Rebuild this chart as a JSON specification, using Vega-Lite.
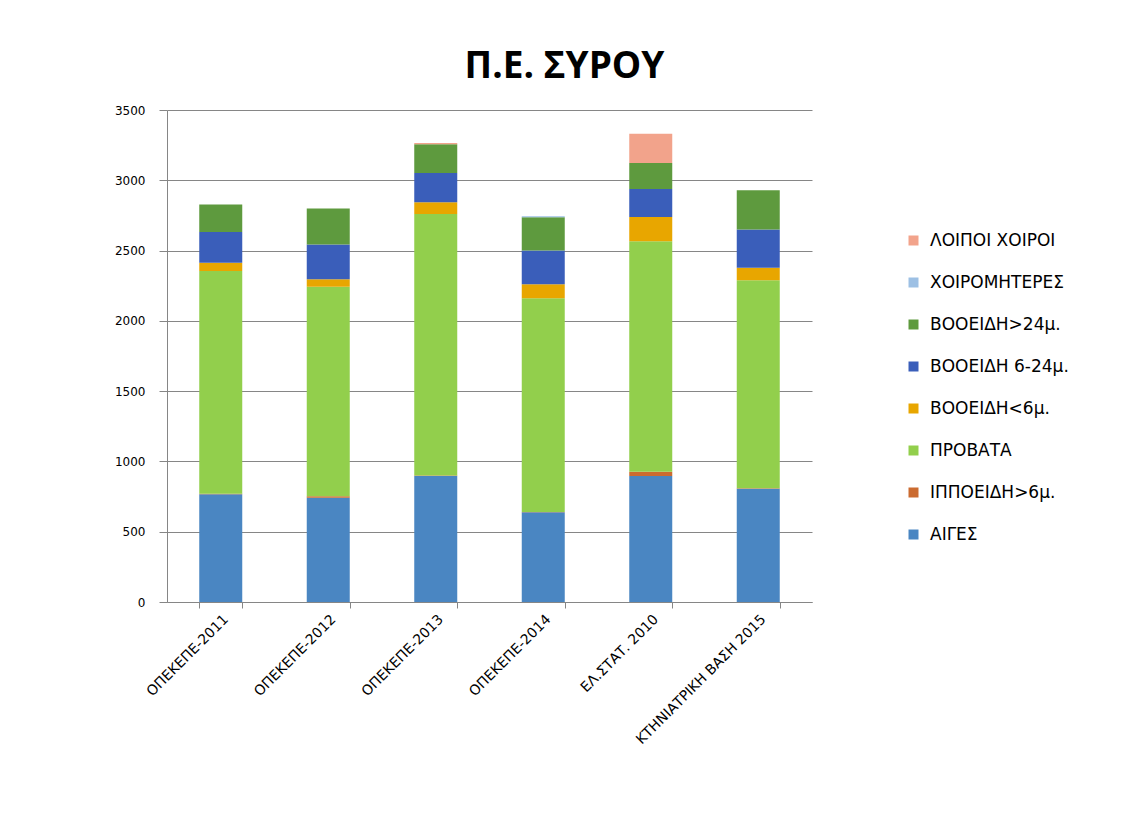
{
  "$schema": "https://vega.github.io/schema/vega-lite/v6.json",
  "autosize": "none",
  "width": 645,
  "height": 492,
  "padding": {"left": 167, "top": 110, "right": 316, "bottom": 232},
  "background": "white",
  "title": {
    "text": "Π.Ε. ΣΥΡΟΥ",
    "font": "Open Sans",
    "fontSize": 37,
    "fontWeight": "bold",
    "color": "#000000",
    "anchor": "middle",
    "frame": "group",
    "dx": 75,
    "offset": 18
  },
  "datasets": {
    "seriesOrder": [
      {"series": "ΑΙΓΕΣ", "stackRank": 1},
      {"series": "ΙΠΠΟΕΙΔΗ>6μ.", "stackRank": 2},
      {"series": "ΠΡΟΒΑΤΑ", "stackRank": 3},
      {"series": "ΒΟΟΕΙΔΗ<6μ.", "stackRank": 4},
      {"series": "ΒΟΟΕΙΔΗ 6-24μ.", "stackRank": 5},
      {"series": "ΒΟΟΕΙΔΗ>24μ.", "stackRank": 6},
      {"series": "ΧΟΙΡΟΜΗΤΕΡΕΣ", "stackRank": 7},
      {"series": "ΛΟΙΠΟΙ ΧΟΙΡΟΙ", "stackRank": 8}
    ],
    "livestock": [
      {"source": "ΟΠΕΚΕΠΕ-2011", "series": "ΑΙΓΕΣ", "value": 766},
      {"source": "ΟΠΕΚΕΠΕ-2011", "series": "ΙΠΠΟΕΙΔΗ>6μ.", "value": 4},
      {"source": "ΟΠΕΚΕΠΕ-2011", "series": "ΠΡΟΒΑΤΑ", "value": 1585},
      {"source": "ΟΠΕΚΕΠΕ-2011", "series": "ΒΟΟΕΙΔΗ<6μ.", "value": 58},
      {"source": "ΟΠΕΚΕΠΕ-2011", "series": "ΒΟΟΕΙΔΗ 6-24μ.", "value": 220},
      {"source": "ΟΠΕΚΕΠΕ-2011", "series": "ΒΟΟΕΙΔΗ>24μ.", "value": 195},
      {"source": "ΟΠΕΚΕΠΕ-2012", "series": "ΑΙΓΕΣ", "value": 742},
      {"source": "ΟΠΕΚΕΠΕ-2012", "series": "ΙΠΠΟΕΙΔΗ>6μ.", "value": 10},
      {"source": "ΟΠΕΚΕΠΕ-2012", "series": "ΠΡΟΒΑΤΑ", "value": 1491},
      {"source": "ΟΠΕΚΕΠΕ-2012", "series": "ΒΟΟΕΙΔΗ<6μ.", "value": 53},
      {"source": "ΟΠΕΚΕΠΕ-2012", "series": "ΒΟΟΕΙΔΗ 6-24μ.", "value": 248},
      {"source": "ΟΠΕΚΕΠΕ-2012", "series": "ΒΟΟΕΙΔΗ>24μ.", "value": 255},
      {"source": "ΟΠΕΚΕΠΕ-2013", "series": "ΑΙΓΕΣ", "value": 897},
      {"source": "ΟΠΕΚΕΠΕ-2013", "series": "ΙΠΠΟΕΙΔΗ>6μ.", "value": 3},
      {"source": "ΟΠΕΚΕΠΕ-2013", "series": "ΠΡΟΒΑΤΑ", "value": 1860},
      {"source": "ΟΠΕΚΕΠΕ-2013", "series": "ΒΟΟΕΙΔΗ<6μ.", "value": 84},
      {"source": "ΟΠΕΚΕΠΕ-2013", "series": "ΒΟΟΕΙΔΗ 6-24μ.", "value": 208},
      {"source": "ΟΠΕΚΕΠΕ-2013", "series": "ΒΟΟΕΙΔΗ>24μ.", "value": 205},
      {"source": "ΟΠΕΚΕΠΕ-2013", "series": "ΛΟΙΠΟΙ ΧΟΙΡΟΙ", "value": 8},
      {"source": "ΟΠΕΚΕΠΕ-2014", "series": "ΑΙΓΕΣ", "value": 638},
      {"source": "ΟΠΕΚΕΠΕ-2014", "series": "ΙΠΠΟΕΙΔΗ>6μ.", "value": 3},
      {"source": "ΟΠΕΚΕΠΕ-2014", "series": "ΠΡΟΒΑΤΑ", "value": 1520},
      {"source": "ΟΠΕΚΕΠΕ-2014", "series": "ΒΟΟΕΙΔΗ<6μ.", "value": 99},
      {"source": "ΟΠΕΚΕΠΕ-2014", "series": "ΒΟΟΕΙΔΗ 6-24μ.", "value": 241},
      {"source": "ΟΠΕΚΕΠΕ-2014", "series": "ΒΟΟΕΙΔΗ>24μ.", "value": 236},
      {"source": "ΟΠΕΚΕΠΕ-2014", "series": "ΧΟΙΡΟΜΗΤΕΡΕΣ", "value": 8},
      {"source": "ΕΛ.ΣΤΑΤ. 2010", "series": "ΑΙΓΕΣ", "value": 897},
      {"source": "ΕΛ.ΣΤΑΤ. 2010", "series": "ΙΠΠΟΕΙΔΗ>6μ.", "value": 30},
      {"source": "ΕΛ.ΣΤΑΤ. 2010", "series": "ΠΡΟΒΑΤΑ", "value": 1640},
      {"source": "ΕΛ.ΣΤΑΤ. 2010", "series": "ΒΟΟΕΙΔΗ<6μ.", "value": 171},
      {"source": "ΕΛ.ΣΤΑΤ. 2010", "series": "ΒΟΟΕΙΔΗ 6-24μ.", "value": 200},
      {"source": "ΕΛ.ΣΤΑΤ. 2010", "series": "ΒΟΟΕΙΔΗ>24μ.", "value": 185},
      {"source": "ΕΛ.ΣΤΑΤ. 2010", "series": "ΛΟΙΠΟΙ ΧΟΙΡΟΙ", "value": 208},
      {"source": "ΚΤΗΝΙΑΤΡΙΚΗ ΒΑΣΗ 2015", "series": "ΑΙΓΕΣ", "value": 806},
      {"source": "ΚΤΗΝΙΑΤΡΙΚΗ ΒΑΣΗ 2015", "series": "ΙΠΠΟΕΙΔΗ>6μ.", "value": 3},
      {"source": "ΚΤΗΝΙΑΤΡΙΚΗ ΒΑΣΗ 2015", "series": "ΠΡΟΒΑΤΑ", "value": 1479},
      {"source": "ΚΤΗΝΙΑΤΡΙΚΗ ΒΑΣΗ 2015", "series": "ΒΟΟΕΙΔΗ<6μ.", "value": 90},
      {"source": "ΚΤΗΝΙΑΤΡΙΚΗ ΒΑΣΗ 2015", "series": "ΒΟΟΕΙΔΗ 6-24μ.", "value": 272},
      {"source": "ΚΤΗΝΙΑΤΡΙΚΗ ΒΑΣΗ 2015", "series": "ΒΟΟΕΙΔΗ>24μ.", "value": 279}
    ]
  },
  "data": {"name": "livestock"},
  "transform": [
    {"lookup": "series", "from": {"data": {"name": "seriesOrder"}, "key": "series", "fields": ["stackRank"]}}
  ],
  "mark": {"type": "bar"},
  "encoding": {
    "x": {
      "field": "source",
      "type": "nominal",
      "sort": ["ΟΠΕΚΕΠΕ-2011", "ΟΠΕΚΕΠΕ-2012", "ΟΠΕΚΕΠΕ-2013", "ΟΠΕΚΕΠΕ-2014", "ΕΛ.ΣΤΑΤ. 2010", "ΚΤΗΝΙΑΤΡΙΚΗ ΒΑΣΗ 2015"],
      "scale": {"paddingInner": 0.6, "paddingOuter": 0.3},
      "axis": {
        "title": null,
        "labelAngle": -45,
        "labelFont": "DejaVu Sans",
        "labelFontSize": 14,
        "labelColor": "#000000",
        "labelPadding": 4,
        "domainColor": "#868686",
        "tickColor": "#868686",
        "tickSize": 6,
        "tickBand": "extent",
        "grid": false
      }
    },
    "y": {
      "field": "value",
      "type": "quantitative",
      "stack": "zero",
      "scale": {"domain": [0, 3500], "nice": false},
      "axis": {
        "title": null,
        "values": [0, 500, 1000, 1500, 2000, 2500, 3000, 3500],
        "format": "d",
        "labelFont": "DejaVu Sans",
        "labelFontSize": 12,
        "labelColor": "#000000",
        "labelPadding": 14,
        "domainColor": "#868686",
        "tickColor": "#868686",
        "tickSize": 8,
        "gridColor": "#868686",
        "gridWidth": 1
      }
    },
    "order": {"field": "stackRank", "type": "quantitative", "sort": "ascending"},
    "color": {
      "field": "series",
      "type": "nominal",
      "sort": ["ΑΙΓΕΣ", "ΙΠΠΟΕΙΔΗ>6μ.", "ΠΡΟΒΑΤΑ", "ΒΟΟΕΙΔΗ<6μ.", "ΒΟΟΕΙΔΗ 6-24μ.", "ΒΟΟΕΙΔΗ>24μ.", "ΧΟΙΡΟΜΗΤΕΡΕΣ", "ΛΟΙΠΟΙ ΧΟΙΡΟΙ"],
      "scale": {
        "range": ["#4A86C2", "#CB6B30", "#92CF4C", "#E8A600", "#3A5EBA", "#5E9A3E", "#9DC0E4", "#F2A38B"]
      },
      "legend": {
        "title": null,
        "values": ["ΛΟΙΠΟΙ ΧΟΙΡΟΙ", "ΧΟΙΡΟΜΗΤΕΡΕΣ", "ΒΟΟΕΙΔΗ>24μ.", "ΒΟΟΕΙΔΗ 6-24μ.", "ΒΟΟΕΙΔΗ<6μ.", "ΠΡΟΒΑΤΑ", "ΙΠΠΟΕΙΔΗ>6μ.", "ΑΙΓΕΣ"],
        "orient": "none",
        "legendX": 738,
        "legendY": 122,
        "symbolType": "square",
        "symbolSize": 100,
        "symbolStrokeWidth": 0,
        "labelFont": "DejaVu Sans",
        "labelFontSize": 17,
        "labelColor": "#000000",
        "labelOffset": 8,
        "rowPadding": 24
      }
    }
  },
  "config": {
    "view": {"stroke": null},
    "axis": {"labelOverlap": false}
  }
}
